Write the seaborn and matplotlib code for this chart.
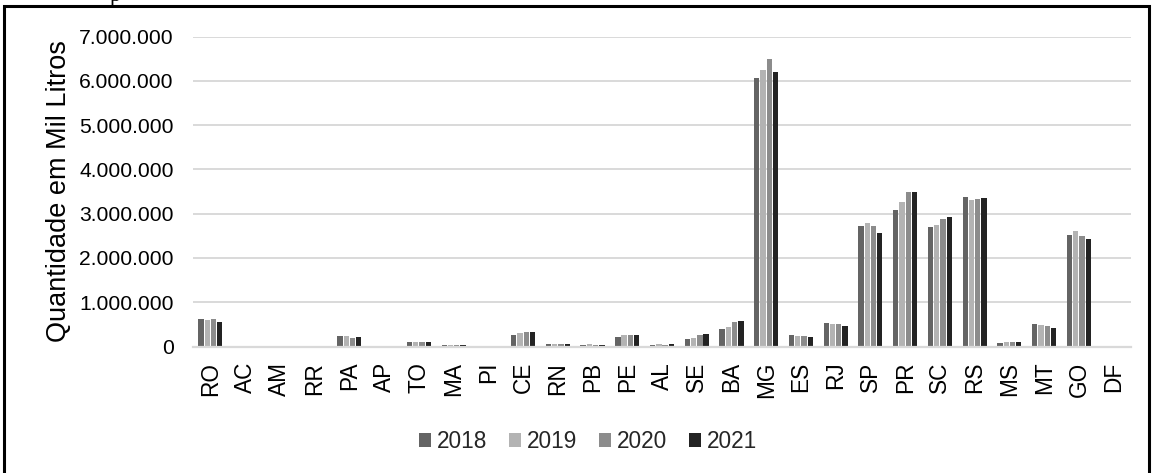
import matplotlib
matplotlib.use("Agg")
import matplotlib.pyplot as plt
from matplotlib.patches import Rectangle
from matplotlib.ticker import FuncFormatter, MultipleLocator
import seaborn as sns
import pandas as pd

# Unidades da federação, na ordem do eixo
estados = ["RO", "AC", "AM", "RR", "PA", "AP", "TO", "MA", "PI", "CE", "RN", "PB",
           "PE", "AL", "SE", "BA", "MG", "ES", "RJ", "SP", "PR", "SC", "RS", "MS",
           "MT", "GO", "DF"]
anos = ["2018", "2019", "2020", "2021"]

# Quantidade em mil litros por ano
q2018 = [630000, 0, 0, 0, 230000, 0, 100000, 45000, 0, 250000, 60000, 40000,
         220000, 40000, 165000, 400000, 6060000, 270000, 520000, 2720000, 3080000,
         2700000, 3370000, 85000, 500000, 2520000, 0]
q2019 = [600000, 0, 0, 0, 230000, 0, 110000, 45000, 0, 300000, 60000, 50000,
         250000, 50000, 190000, 450000, 6250000, 230000, 510000, 2780000, 3270000,
         2750000, 3300000, 100000, 490000, 2610000, 0]
q2020 = [620000, 0, 0, 0, 200000, 0, 110000, 45000, 0, 320000, 60000, 40000,
         250000, 40000, 250000, 550000, 6500000, 230000, 500000, 2730000, 3500000,
         2870000, 3320000, 110000, 460000, 2500000, 0]
q2021 = [560000, 0, 0, 0, 220000, 0, 110000, 45000, 0, 320000, 65000, 40000,
         260000, 60000, 290000, 580000, 6190000, 220000, 470000, 2570000, 3500000,
         2930000, 3360000, 110000, 420000, 2430000, 0]

cores = ["#646464", "#b3b3b3", "#8c8c8c", "#232323"]

df = pd.DataFrame({
    "UF": estados * 4,
    "Ano": [a for a in anos for _ in estados],
    "Quantidade": q2018 + q2019 + q2020 + q2021,
})

sns.set_theme(style="white")
plt.rcParams["font.family"] = ["Liberation Sans", "DejaVu Sans"]

W, H = 1152, 473
fig = plt.figure(figsize=(W / 100, H / 100), dpi=100)
ax = fig.add_axes([193 / W, 1 - 346.5 / H, (1131 - 193) / W, (346.5 - 36.5) / H])

sns.barplot(data=df, x="UF", y="Quantidade", hue="Ano", palette=cores,
            hue_order=anos, order=estados, width=0.72, gap=0.15, saturation=1,
            linewidth=0, ax=ax, legend=True)

ax.set_ylim(0, 7000000)
ax.set_xlim(-0.5, len(estados) - 0.5)
ax.yaxis.set_major_locator(MultipleLocator(1000000))
ax.yaxis.set_major_formatter(FuncFormatter(lambda v, p: f"{int(v):,}".replace(",", ".")))
ax.grid(axis="y", color="#d9d9d9", linewidth=1.4)
ax.set_axisbelow(True)
for lado in ["top", "right", "left"]:
    ax.spines[lado].set_visible(False)
ax.spines["bottom"].set_color("#d9d9d9")
ax.spines["bottom"].set_linewidth(1.6)

ax.tick_params(axis="y", length=0, pad=14, labelsize=15.2, labelcolor="black")
ax.tick_params(axis="x", length=0, pad=11, labelsize=16.3, labelcolor="black",
               labelrotation=90)
ax.set_xlabel("")
ax.set_ylabel("Quantidade em Mil Litros", fontsize=19.5, color="black", labelpad=5)

ax.legend(loc="center", bbox_to_anchor=(588 / W, 1 - 441.7 / H),
          bbox_transform=fig.transFigure, ncol=4, frameon=False, fontsize=16.3,
          handlelength=0.55, handleheight=0.55, handletextpad=0.25,
          columnspacing=0.95, borderaxespad=0)

# Moldura do gráfico
fig.patches.append(Rectangle((4 / W, -0.05), (1149 - 4) / W, 1.05 - 6 / H,
                             transform=fig.transFigure, fill=False,
                             edgecolor="black", linewidth=2.2))
# Título do gráfico acima da moldura
fig.text(110 / W, 1 - 0.5 / H, "p", family="Liberation Serif", fontsize=16,
         va="baseline", ha="left", color="black")

fig.savefig("out.png", dpi=100)
